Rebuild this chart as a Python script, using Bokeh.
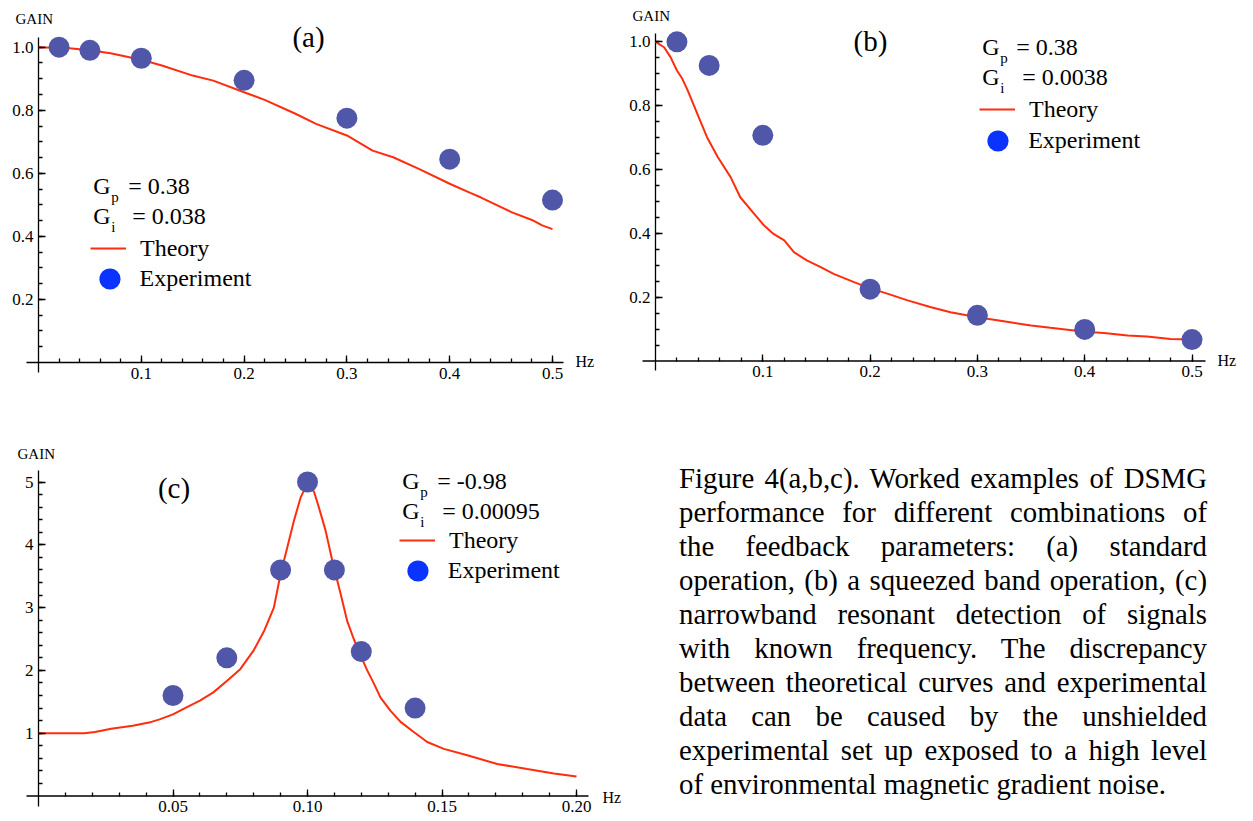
from bokeh.plotting import figure
from bokeh.models import (FixedTicker, Label, Legend, LegendItem, Range1d,
                          PrintfTickFormatter, Div, Spacer)
from bokeh.layouts import row, column
from bokeh.embed import file_html
from bokeh.resources import INLINE

SERIF = "Liberation Serif"
LINE_COLOR = "#ff2d0d"
DOT_COLOR = "#5056a8"
LEG_DOT = "#0a33ff"

# ---------------- data ----------------
# Panel (a)  Gp = 0.38, Gi = 0.038
a_theory_x = [0, 0.03, 0.05, 0.07, 0.1, 0.12, 0.15, 0.17, 0.2, 0.22, 0.25, 0.27, 0.3,
              0.325, 0.345, 0.37, 0.4, 0.42, 0.43, 0.46, 0.48, 0.49, 0.5]
a_theory_y = [1.0, 0.997, 0.99, 0.981, 0.96, 0.942, 0.91, 0.894, 0.857, 0.833, 0.789, 0.757, 0.72,
              0.672, 0.651, 0.614, 0.567, 0.538, 0.524, 0.477, 0.452, 0.435, 0.423]
a_exp_x = [0.02, 0.05, 0.1, 0.2, 0.3, 0.4, 0.5]
a_exp_y = [1.0, 0.99, 0.965, 0.895, 0.775, 0.645, 0.515]
a_xticks = [0.1, 0.2, 0.3, 0.4, 0.5]
a_yticks = [0.2, 0.4, 0.6, 0.8, 1.0]

# Panel (b)  Gp = 0.38, Gi = 0.0038
b_theory_x = [0, 0.008, 0.014, 0.02, 0.025, 0.03, 0.039, 0.048, 0.058, 0.07, 0.079, 0.092, 0.101,
              0.11, 0.12, 0.129, 0.141, 0.154, 0.166, 0.185, 0.199, 0.216, 0.235, 0.256, 0.275,
              0.3, 0.32, 0.35, 0.368, 0.4, 0.418, 0.44, 0.458, 0.48, 0.5]
b_theory_y = [1.0, 0.983, 0.952, 0.91, 0.884, 0.848, 0.774, 0.701, 0.639, 0.576, 0.513, 0.461, 0.425,
              0.398, 0.378, 0.341, 0.315, 0.294, 0.273, 0.247, 0.229, 0.211, 0.19, 0.169, 0.153,
              0.137, 0.127, 0.111, 0.104, 0.092, 0.088, 0.08, 0.077, 0.069, 0.067]
b_exp_x = [0.02, 0.05, 0.1, 0.2, 0.3, 0.4, 0.5]
b_exp_y = [1.0, 0.926, 0.707, 0.225, 0.143, 0.099, 0.067]
b_xticks = [0.1, 0.2, 0.3, 0.4, 0.5]
b_yticks = [0.2, 0.4, 0.6, 0.8, 1.0]

# Panel (c)  Gp = -0.98, Gi = 0.00095
c_theory_x = [0, 0.017, 0.021, 0.027, 0.035, 0.042, 0.045, 0.05, 0.055, 0.06, 0.065, 0.07, 0.075,
              0.08, 0.084, 0.0875, 0.09, 0.0925, 0.095, 0.0975, 0.099, 0.1, 0.1024, 0.1042,
              0.1067, 0.1092, 0.1123, 0.1148, 0.1172, 0.1197, 0.1222, 0.1247, 0.1271, 0.1308,
              0.1346, 0.1395, 0.1445, 0.1507, 0.1594, 0.1705, 0.1817, 0.1916, 0.2]
c_theory_y = [1.0, 1.0, 1.02, 1.07, 1.12, 1.18, 1.22, 1.3, 1.41, 1.52, 1.65, 1.83, 2.02,
              2.32, 2.64, 3.0, 3.54, 3.96, 4.39, 4.76, 4.89, 4.93, 4.85, 4.6,
              4.23, 3.75, 3.22, 2.78, 2.5, 2.24, 2.0, 1.79, 1.57, 1.36,
              1.18, 1.02, 0.86, 0.75, 0.65, 0.51, 0.43, 0.36, 0.31]
c_exp_x = [0.05, 0.07, 0.09, 0.10, 0.11, 0.12, 0.14]
c_exp_y = [1.6, 2.2, 3.6, 5.0, 3.6, 2.3, 1.4]
c_xticks = [0.05, 0.10, 0.15, 0.20]
c_yticks = [1, 2, 3, 4, 5]

caption_lines = [
    "Figure 4(a,b,c). Worked examples of DSMG",
    "performance for different combinations of",
    "the feedback parameters: (a) standard",
    "operation, (b) a squeezed band operation, (c)",
    "narrowband resonant detection of signals",
    "with known frequency. The discrepancy",
    "between theoretical curves and experimental",
    "data can be caused by the unshielded",
    "experimental set up exposed to a high level",
    "of environmental magnetic gradient noise.",
]


def minor_list(step, stop):
    n = int(round(stop / step))
    return [round(step * k, 6) for k in range(1, n + 1)]


def make_panel(box, px_origin, scale, axis_box,
               xticks, xminor, xfmt, yticks, yminor, yfmt,
               tx, ty, ex, ey, panel_label, gp_text, gi_text, anchors):
    # box: page-pixel rectangle of the figure (left, top, width, height)
    left, top, width, height = box
    x0, y0 = px_origin
    xs, ys = scale

    def dx(sx):
        return (sx - x0) / xs

    def dy(sy):
        return (y0 - sy) / ys

    p = figure(width=width, height=height, output_backend="svg", toolbar_location=None,
               x_range=Range1d(dx(left), dx(left + width)),
               y_range=Range1d(dy(top + height), dy(top)),
               min_border=0, min_border_left=0, min_border_right=0,
               min_border_top=0, min_border_bottom=0)
    p.grid.visible = False
    p.outline_line_color = None
    p.background_fill_color = "white"
    p.border_fill_color = "white"

    xa, ya = p.xaxis[0], p.yaxis[0]
    xa.ticker = FixedTicker(ticks=xticks, minor_ticks=xminor)
    ya.ticker = FixedTicker(ticks=yticks, minor_ticks=yminor)
    xa.formatter = PrintfTickFormatter(format=xfmt)
    ya.formatter = PrintfTickFormatter(format=yfmt)
    for ax in (xa, ya):
        ax.fixed_location = 0
        ax.axis_line_color = None
        ax.major_tick_line_color = "black"
        ax.minor_tick_line_color = "black"
        ax.major_tick_line_width = 1.3
        ax.minor_tick_line_width = 1.3
        ax.major_tick_in = 7
        ax.major_tick_out = 0
        ax.minor_tick_in = 4
        ax.minor_tick_out = 0
        ax.major_label_text_font = SERIF
        ax.major_label_text_font_size = "17px"
        ax.major_label_text_color = "black"
    xa.major_label_standoff = 5
    ya.major_label_standoff = 5

    # axis lines crossing at the origin (Mathematica style)
    axl, axt, axr, axb = axis_box
    p.segment(x0=[dx(axl), 0], y0=[0, dy(axb)], x1=[dx(axr), 0], y1=[0, dy(axt)],
              line_color="black", line_width=1.3)

    line_r = p.line(tx, ty, line_color=LINE_COLOR, line_width=2)
    p.scatter(ex, ey, size=21, fill_color=DOT_COLOR, line_color=None)
    leg_dot = p.scatter(ex, ey, size=21, fill_color=LEG_DOT, line_color=None, visible=False)

    def lab(text, sx, sy, size, align="left"):
        p.add_layout(Label(x=dx(sx), y=dy(sy), text=text, text_font=SERIF,
                           text_font_size=size, text_align=align, text_baseline="middle",
                           text_color="black"))

    a = anchors
    lab("GAIN", a["gain"][0], a["gain"][1], "15px")
    lab("Hz", a["hz"][0], a["hz"][1], "16px")
    lab(panel_label, a["panel"][0], a["panel"][1], "29px", align="center")
    gx, gy = a["g"]
    lab("G", gx, gy, "24px")
    lab("p", gx + 18, gy + 11, "15px")
    lab(gp_text, gx + a["eq"][0], gy, "24px")
    lab("G", gx, gy + 30, "24px")
    lab("i", gx + 18, gy + 41, "15px")
    lab(gi_text, gx + a["eq"][1], gy + 30, "24px")

    common = dict(orientation="vertical", label_text_font=SERIF, label_text_font_size="24px",
                  label_text_color="black", padding=0, margin=0, spacing=0,
                  inactive_fill_alpha=0, border_line_color=None, background_fill_alpha=0)
    # Theory key: short red line
    tx_left, t_cy = a["theory"]
    leg_t = Legend(items=[LegendItem(label="Theory", renderers=[line_r])],
                   location=(tx_left - left, top + height - (t_cy + 14)),
                   glyph_width=36, glyph_height=28, label_standoff=14, **common)
    # Experiment key: big blue dot (marker size = 0.4 * glyph box)
    dcx, dcy = a["dot"]
    leg_e = Legend(items=[LegendItem(label="Experiment", renderers=[leg_dot])],
                   location=(dcx - 26.5 - left, top + height - (dcy + 26.5)),
                   glyph_width=53, glyph_height=53, label_standoff=4, **common)
    p.add_layout(leg_t)
    p.add_layout(leg_e)
    return p


pa = make_panel((0, 0, 618, 415), (38, 362), (1028, 315.3), (26, 37, 563, 372),
                a_xticks, minor_list(0.02, 0.5), "%.1f",
                a_yticks, minor_list(0.05, 1.0), "%.1f",
                a_theory_x, a_theory_y, a_exp_x, a_exp_y, "(a)",
                "= 0.38", "= 0.038",
                {"gain": (15, 18), "hz": (575, 361), "panel": (308, 36),
                 "g": (92.7, 185), "eq": (35, 39),
                 "theory": (90, 248), "dot": (109, 278)})

pb = make_panel((618, 0, 625, 415), (655, 360.5), (1073, 319.2), (642, 33, 1205, 370),
                b_xticks, minor_list(0.02, 0.5), "%.1f",
                b_yticks, minor_list(0.05, 1.0), "%.1f",
                b_theory_x, b_theory_y, b_exp_x, b_exp_y, "(b)",
                "= 0.38", "= 0.0038",
                {"gain": (632, 15), "hz": (1217, 360), "panel": (870, 40),
                 "g": (981.7, 46.7), "eq": (34, 40),
                 "theory": (979, 109), "dot": (997.7, 140)})

pc = make_panel((0, 415, 674, 405), (38, 795.5), (2690, 62.8), (26, 470, 588, 806),
                c_xticks, minor_list(0.01, 0.2), "%.2f",
                c_yticks, minor_list(0.2, 5.0), "%d",
                c_theory_x, c_theory_y, c_exp_x, c_exp_y, "(c)",
                "= -0.98", "= 0.00095",
                {"gain": (17, 453), "hz": (602, 797), "panel": (173.5, 487),
                 "g": (401.7, 480), "eq": (35, 40),
                 "theory": (399, 540), "dot": (417.3, 570)})

rows_html = []
for i, line in enumerate(caption_lines):
    last = i == len(caption_lines) - 1
    align = "text-align:left;" if last else "text-align:justify;text-align-last:justify;"
    rows_html.append(f'<div style="{align}height:34px;line-height:34px;margin:0;padding:0">{line}</div>')
caption = Div(text='<div style="width:528px">' + "".join(rows_html) + "</div>",
              width=528, height=345,
              styles={"font-family": "'Liberation Serif', 'Times New Roman', serif",
                      "font-size": "28.8px", "color": "black"})

layout = column(row(pa, pb), row(pc, column(Spacer(height=41), caption)))

open("out.html", "w").write(file_html(layout, INLINE))
